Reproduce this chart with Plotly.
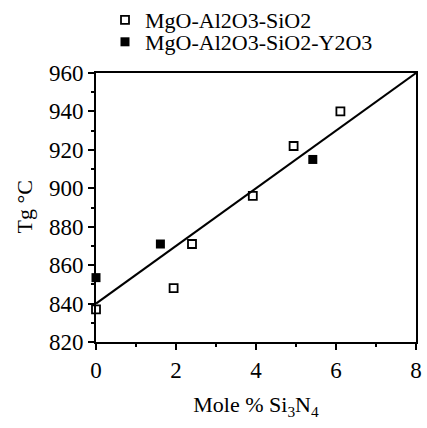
import plotly.graph_objects as go

# Data
mas_x = [0.0, 1.94, 2.40, 3.92, 4.94, 6.11]
mas_y = [837, 848, 871, 896, 922, 940]
masy_x = [0.0, 1.61, 5.42]
masy_y = [853.5, 871, 915]
fit_x = [0, 8]
fit_y = [840, 960]
x_ticks = [0, 2, 4, 6, 8]
y_ticks = [820, 840, 860, 880, 900, 920, 940, 960]

FONT = "Times New Roman, Liberation Serif, DejaVu Serif, serif"

fig = go.Figure()
fig.add_trace(go.Scatter(x=fit_x, y=fit_y, mode="lines",
                         line=dict(color="black", width=2), showlegend=False))
fig.add_trace(go.Scatter(x=mas_x, y=mas_y, mode="markers", name="MgO-Al2O3-SiO2",
                         marker=dict(symbol="square-open", size=8, color="black",
                                     line=dict(width=1.8, color="black")),
                         cliponaxis=False, legend="legend"))
fig.add_trace(go.Scatter(x=masy_x, y=masy_y, mode="markers", name="MgO-Al2O3-SiO2-Y2O3",
                         marker=dict(symbol="square", size=9, color="black"),
                         cliponaxis=False, legend="legend2"))

axis_common = dict(showline=True, linecolor="black", linewidth=2, mirror=True,
                   showgrid=False, zeroline=False, ticks="outside", ticklen=6,
                   tickwidth=1.5, tickcolor="black",
                   tickfont=dict(family=FONT, size=23, color="black"))

fig.update_xaxes(range=[0, 8], tickvals=x_ticks,
                 minor=dict(dtick=1, ticks="outside", ticklen=3, tickwidth=1.5, tickcolor="black"),
                 title=dict(text="Mole % Si<sub>3</sub>N<sub>4</sub>",
                            font=dict(family=FONT, size=22, color="black")),
                 **axis_common)
fig.update_yaxes(range=[820, 960], tickvals=y_ticks,
                 minor=dict(dtick=10, ticks="outside", ticklen=3, tickwidth=1.5, tickcolor="black"),
                 **axis_common)

fig.add_annotation(text="Tg °C", xref="paper", yref="paper", x=-0.225, y=0.5,
                   xanchor="center", yanchor="middle", textangle=-90, showarrow=False,
                   font=dict(family=FONT, size=22, color="black"))

leg_common = dict(xref="container", yref="container", xanchor="left", yanchor="middle",
                  font=dict(family=FONT, size=22, color="black"),
                  bgcolor="rgba(0,0,0,0)", itemwidth=30)

fig.update_layout(
    width=427, height=428,
    font=dict(family=FONT, size=22, color="black"),
    margin=dict(l=96, r=11, t=73, b=86, autoexpand=False),
    paper_bgcolor="white", plot_bgcolor="white",
    showlegend=True,
    legend=dict(x=105 / 427, y=1 - 20 / 428, **leg_common),
    legend2=dict(x=105 / 427, y=1 - 42 / 428, **leg_common),
)

fig.write_html("out.html")
